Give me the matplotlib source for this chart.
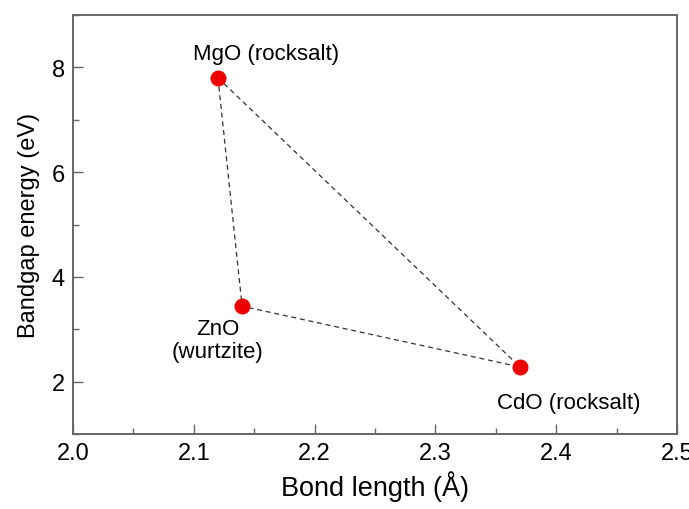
import matplotlib

matplotlib.use("Agg")
import matplotlib.pyplot as plt
from matplotlib.ticker import MultipleLocator

plt.rcParams["font.family"] = ["Liberation Sans", "DejaVu Sans"]

COMPOUNDS = ["MgO (rocksalt)", "ZnO\n(wurtzite)", "CdO (rocksalt)"]
BOND_LENGTH = [2.12, 2.14, 2.37]
BANDGAP = [7.8, 3.44, 2.28]
# where each compound's label sits (data coords)
LABEL_X = [2.16, 2.12, 2.41]
LABEL_Y = [8.27, 2.79, 1.6]

AXIS_COLOR = "#666666"

fig = plt.figure(figsize=(6.89, 5.10), dpi=100)
ax = fig.add_axes([73 / 689, 1 - 435 / 510, (677 - 73) / 689, (435 - 16) / 510])

# dashed triangle between the three compounds
xs = BOND_LENGTH + BOND_LENGTH[:1]
ys = BANDGAP + BANDGAP[:1]
ax.plot(xs, ys, linestyle=(0, (4, 3)), color="#333333", linewidth=0.9, zorder=1)
ax.plot(BOND_LENGTH, BANDGAP, "o", color="#ee0000", markersize=11.5,
        markeredgewidth=0, zorder=2)

for name, lx, ly in zip(COMPOUNDS, LABEL_X, LABEL_Y):
    ax.text(lx, ly, name, ha="center", va="center", fontsize=16,
            linespacing=1.1)

ax.set_xlim(2.0, 2.5)
ax.set_ylim(1, 9)
ax.xaxis.set_major_locator(MultipleLocator(0.1))
ax.xaxis.set_minor_locator(MultipleLocator(0.05))
ax.yaxis.set_major_locator(MultipleLocator(2))
ax.yaxis.set_minor_locator(MultipleLocator(1))
ax.xaxis.set_major_formatter(plt.FormatStrFormatter("%.1f"))

for spine in ax.spines.values():
    spine.set_color(AXIS_COLOR)
    spine.set_linewidth(1.4)
ax.tick_params(which="both", direction="in", colors=AXIS_COLOR,
               labelcolor="black", labelsize=17, top=False, right=False)
ax.tick_params(which="major", length=7, width=1.0, pad=6)
ax.tick_params(which="minor", length=4.5, width=1.0)

ax.set_xlabel("Bond length (Å)", fontsize=19.5, labelpad=4)
ax.set_ylabel("Bandgap energy (eV)", fontsize=17, labelpad=8)

fig.savefig("out.png", dpi=100)
